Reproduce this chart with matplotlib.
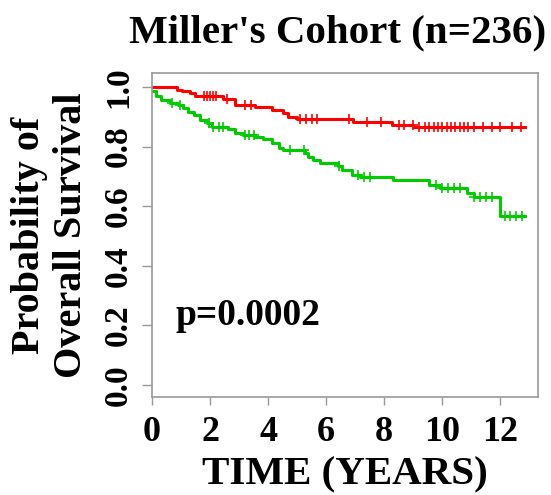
import numpy as np
import matplotlib
matplotlib.use('Agg')
import matplotlib.pyplot as plt

# Kaplan-Meier step values
red_times = [0.0, 0.85, 1.05, 1.31, 1.48, 2.46, 2.86, 3.55, 4.13, 4.53, 4.70, 4.99, 6.94, 8.26, 9.01, 12.86]
red_surv = [1.0, 0.990, 0.985, 0.981, 0.970, 0.959, 0.940, 0.932, 0.923, 0.913, 0.900, 0.893, 0.883, 0.872, 0.865, 0.865]
red_cens = [1.8, 1.9, 2.0, 2.1, 2.2, 2.6, 3.2, 3.4, 5.1, 5.3, 5.5, 5.7, 6.8, 7.4, 7.9, 8.5, 8.7,
            9.0, 9.2, 9.4, 9.55, 9.7, 9.85, 10.0, 10.15, 10.3, 10.45, 10.6, 10.75, 10.9, 11.1, 11.4, 11.7, 12.0, 12.4, 12.7]

green_times = [0.0, 0.14, 0.31, 0.62, 0.90, 1.08, 1.25, 1.43, 1.66, 1.89, 2.06, 2.63, 2.86, 3.15, 3.55, 3.84,
               4.13, 4.36, 4.53, 5.28, 5.39, 5.56, 5.79, 6.40, 6.54, 6.89, 7.17, 8.32, 9.53, 9.93, 10.85, 11.08, 11.98, 12.86]
green_surv = [0.985, 0.970, 0.956, 0.945, 0.940, 0.930, 0.917, 0.906, 0.889, 0.879, 0.867, 0.858, 0.847, 0.839, 0.833, 0.825,
              0.811, 0.797, 0.789, 0.778, 0.766, 0.755, 0.746, 0.735, 0.721, 0.705, 0.697, 0.688, 0.671, 0.660, 0.643, 0.632, 0.568, 0.568]
green_cens = [0.7, 0.95, 1.95, 2.1, 2.3, 2.45, 3.2, 3.35, 3.5, 4.75, 5.25, 6.45, 7.1, 7.3, 7.5,
              9.8, 10.0, 10.2, 10.4, 10.6, 11.1, 11.3, 11.5, 11.7, 12.15, 12.35, 12.55, 12.75]

x_ticks = [0, 2, 4, 6, 8, 10, 12]
y_ticks = [0.0, 0.2, 0.4, 0.6, 0.8, 1.0]
y_ticklabels = ['0.0', '0.2', '0.4', '0.6', '0.8', '1.0']

title = "Miller's Cohort (n=236)"
p_text = 'p=0.0002'

plt.rcParams['font.family'] = ['Liberation Serif', 'DejaVu Serif']
plt.rcParams['font.weight'] = 'bold'


def step_at(times, surv, t):
  idx = np.searchsorted(times, t, side='right') - 1
  return np.asarray(surv)[idx]


fig = plt.figure(figsize=(5.51, 4.95), dpi=100)
fig.set_facecolor('white')
ax = fig.add_axes([152 / 551, 98 / 495, 386 / 551, 324 / 495])

red_c = '#ff0000'
green_c = '#00cc00'

ax.step(red_times, red_surv, where='post', color=red_c, lw=2.2)
ax.plot(red_cens, step_at(red_times, red_surv, red_cens), '+', color=red_c, ms=7, mew=1.2)
ax.step(green_times, green_surv, where='post', color=green_c, lw=2.2)
ax.plot(green_cens, step_at(green_times, green_surv, green_cens), '+', color=green_c, ms=7, mew=1.2)

ax.set_xlim(0, 13.3)
ax.set_ylim(-0.04, 1.047)

ax.set_xticks(x_ticks)
ax.set_xticklabels([str(v) for v in x_ticks], fontsize=26, fontweight='bold')
ax.set_yticks(y_ticks)
ax.set_yticklabels(y_ticklabels, fontsize=24, fontweight='bold', rotation=90, va='center')

ax.tick_params(axis='x', length=6, width=1, color='#999999', pad=8)
ax.tick_params(axis='y', length=7, width=1, color='#999999', pad=6)
for spine in ax.spines.values():
  spine.set_color('#999999')
  spine.set_linewidth(1.2)

ax.text(0.8, 0.2, p_text, fontsize=27, fontweight='bold', ha='left', va='baseline')

ax.set_xlabel('TIME (YEARS)', fontsize=29.5, fontweight='bold', labelpad=5)
ax.set_ylabel('Probability of\nOverall Survival', fontsize=29, fontweight='bold', linespacing=1.2)
ax.yaxis.set_label_coords(-0.16, 0.5)
ax.set_title(title, fontsize=29.5, fontweight='bold', pad=22, x=0.48)

fig.savefig('out.png', dpi=100, facecolor='white')
